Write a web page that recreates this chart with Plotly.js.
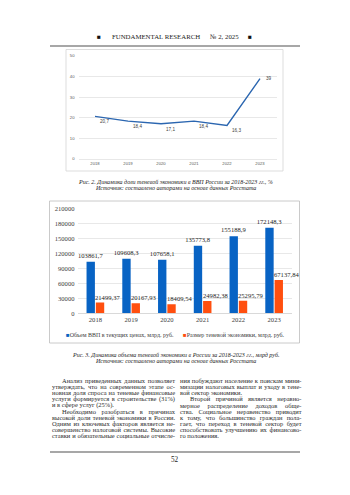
<!DOCTYPE html>
<html>
<head>
<meta charset="utf-8">
<script src="https://cdn.plot.ly/plotly-3.0.1.min.js"></script>
<style>html,body{margin:0;padding:0;background:#fff;}#page{width:350px;height:495px;}</style>
</head>
<body>
<div id="page"></div>
<script>
// ---------- DATA ----------
const years = ['2018', '2019', '2020', '2021', '2022', '2023'];
const shadowShare = [20.7, 18.4, 17.1, 18.4, 16.3, 39];
const gdpCurrent = [103861.7, 109608.3, 107658.1, 135773.8, 155188.9, 172148.3];
const shadowSize = [21499.37, 20167.93, 18409.54, 24982.38, 25295.79, 67137.84];
const seriesNames = ['Объем ВВП в текущих ценах, млрд. руб.', 'Размер теневой экономики, млрд. руб.'];

const headerTitle = 'FUNDAMENTAL RESEARCH';
const headerIssue = '№ 2, 2025';
const caption1 = ['Рис. 2. Динамика доли теневой экономики в ВВП России за 2018-2023 гг., %',
                  'Источник: составлено авторами на основе данных Росстата'];
const caption2 = ['Рис. 3. Динамика объема теневой экономики в России за 2018-2023 гг., млрд руб.',
                  'Источник: составлено авторами на основе данных Росстата'];
const leftLines = [
  'Анализ приведенных данных позволяет',
  'утверждать, что на современном этапе ос-',
  'новная доля спроса на теневые финансовые',
  'услуги формируется в строительстве (31%)',
  'и в сфере услуг (25%).',
  'Необходимо разобраться в причинах',
  'высокой доли теневой экономики в России.',
  'Одним из ключевых факторов является не-',
  'совершенство налоговой системы. Высокие',
  'ставки и обязательные социальные отчисле-'
];
const rightLines = [
  'ния побуждают население к поискам мини-',
  'мизации налоговых выплат и уходу в тене-',
  'вой сектор экономики.',
  'Второй причиной является неравно-',
  'мерное распределение доходов обще-',
  'ства. Социальное неравенство приводит',
  'к тому, что большинство граждан пола-',
  'гает, что переход в теневой сектор будет',
  'способствовать улучшению их финансово-',
  'го положения.'
];
const leftIndent = [1,0,0,0,0,1,0,0,0,0];
const leftJustify = [1,1,1,1,0,1,1,1,1,1];
const rightIndent = [0,0,0,1,0,0,0,0,0,0];
const rightJustify = [1,1,0,1,1,1,1,1,1,0];
const pageNumber = '52';

// ---------- helpers (page pixel -> paper) ----------
const W = 350, H = 495;
const px = x => x / W;
const py = y => 1 - y / H;
const fmtComma = v => String(v).replace('.', ',');

const SERIF = '"Liberation Serif", "Times New Roman", serif';
const SANS = '"Liberation Sans", Arial, sans-serif';
const BLUE = '#0863c4';
const ORANGE = '#ff4f0f';
const LINEBLUE = '#2b66b0';

// ---------- traces ----------
const traces = [
  {
    type: 'scatter', mode: 'lines', x: years, y: shadowShare,
    xaxis: 'x', yaxis: 'y', line: {color: LINEBLUE, width: 1.4}, hoverinfo: 'skip'
  },
  {
    type: 'bar', name: seriesNames[0], x: years, y: gdpCurrent, xaxis: 'x2', yaxis: 'y2',
    marker: {color: BLUE}, text: gdpCurrent.map(fmtComma), textposition: 'outside',
    textfont: {family: SERIF, size: 6.6, color: '#262626'}, constraintext: 'none', cliponaxis: false
  },
  {
    type: 'bar', name: seriesNames[1], x: years, y: shadowSize, xaxis: 'x2', yaxis: 'y2',
    marker: {color: ORANGE}, cliponaxis: false
  }
];

// ---------- annotations ----------
const ann = [];
function paperText(x, y, text, font, xa, ya) {
  ann.push({xref:'paper', yref:'paper', x: px(x), y: py(y), text: text, showarrow:false,
    xanchor: xa || 'center', yanchor: ya || 'middle', font: font});
}
// line chart data labels (category axis -> serial number)
years.forEach((yr, i) => {
  const last = i === years.length - 1;
  ann.push({
    xref: 'x', yref: 'y', x: i, y: shadowShare[i], text: fmtComma(shadowShare[i]),
    showarrow: false, xanchor: 'left', yanchor: 'middle',
    xshift: last ? 4 : 3, yshift: last ? 0 : -5.5,
    font: {family: SANS, size: 4.6, color: '#404040'}
  });
});
// orange bar data labels (offset to the right like the original)
years.forEach((yr, i) => {
  ann.push({
    xref: 'x2', yref: 'y2', x: i, y: shadowSize[i], text: fmtComma(shadowSize[i]),
    showarrow: false, xanchor: 'center', yanchor: 'bottom', xshift: 12.5, yshift: 0,
    font: {family: SERIF, size: 6.6, color: '#262626'}
  });
});
// header
const hdrFont = {family: SERIF, size: 6.8, color: '#222'};
paperText(99, 36, '■', {family:SERIF, size:6.5, color:'#111'});
paperText(156, 36, headerTitle, hdrFont);
paperText(224, 36, headerIssue, hdrFont);
paperText(249.5, 36, '■', {family:SERIF, size:6.5, color:'#111'});
// captions
const capFont = {family: SERIF, size: 6, color: '#222'};
[[caption1, 181.5], [caption2, 354.5]].forEach(([lines, y0]) => {
  lines.forEach((t, i) => paperText(175, y0 + i*6.3, '<i>' + t + '</i>', capFont));
});
// bar legend
const legFont = {family: SERIF, size: 6, color: '#404040'};
paperText(64, 335, '<span style="color:' + BLUE + '">■</span>' + seriesNames[0], legFont, 'left');
paperText(181, 335, '<span style="color:' + ORANGE + '">■</span>' + seriesNames[1], legFont, 'left');

// body text (justified via measured word spacing)
const canvas = document.createElement('canvas');
const ctx = canvas.getContext('2d');
let bodySize = 6.7;
function measure(t, s) { ctx.font = s + 'px "Liberation Serif"'; return ctx.measureText(t).width; }
const cols = [
  {lines: leftLines, indent: leftIndent, just: leftJustify, x0: 51, x1: 174},
  {lines: rightLines, indent: rightIndent, just: rightJustify, x0: 178.5, x1: 300}
];
const IND = 10;
let maxRatio = 0;
cols.forEach(c => c.lines.forEach((t, i) => {
  const target = (c.x1 - c.x0) - (c.indent[i] ? IND : 0);
  maxRatio = Math.max(maxRatio, measure(t, bodySize) / target);
}));
if (maxRatio > 0.99) bodySize = bodySize * 0.99 / maxRatio;
const bodyFont = {family: SERIF, size: bodySize, color: '#2a2a2a'};
cols.forEach(c => c.lines.forEach((t, i) => {
  const start = c.x0 + (c.indent[i] ? IND : 0);
  const target = c.x1 - start;
  let text = t;
  if (c.just[i]) {
    const nSp = (t.match(/ /g) || []).length;
    if (nSp > 0) {
      const extra = (target - measure(t, bodySize)) / nSp;
      text = '<span style="word-spacing:' + extra.toFixed(2) + 'px">' + t + '</span>';
    }
  }
  paperText(start - 1, 380.8 + i*6.05, text, bodyFont, 'left');
}));
paperText(174.5, 460, pageNumber, {family: SERIF, size: 7.2, color: '#222'});

// ---------- shapes (page rules and chart frames) ----------
const shapes = [
  {type:'line', xref:'paper', yref:'paper', x0: px(50), x1: px(300), y0: py(46), y1: py(46), line:{color:'#8a8a8a', width:1.4}},
  {type:'rect', xref:'paper', yref:'paper', x0: px(66), x1: px(283), y0: py(49.5), y1: py(171), line:{color:'#d4d4d4', width:0.8}},
  {type:'rect', xref:'paper', yref:'paper', x0: px(49.5), x1: px(299.5), y0: py(201), y1: py(343), line:{color:'#bdbdbd', width:0.8}},
  {type:'line', xref:'paper', yref:'paper', x0: px(50), x1: px(300), y0: py(452), y1: py(452), line:{color:'#8a8a8a', width:1.4}}
];

const layout = {
  width: W, height: H, margin: {l:0, r:0, t:0, b:0},
  paper_bgcolor: '#fff', plot_bgcolor: 'rgba(0,0,0,0)',
  showlegend: false, separators: ', ',
  font: {family: SERIF, color: '#404040'},
  barmode: 'group', bargap: 0.48, bargroupgap: 0.1,
  xaxis: {domain: [px(78.5), px(276.5)], anchor: 'y', type: 'category', range: [-0.5, 5.5], autorange: false,
    showgrid: false, showline: true, linecolor: '#d9d9d9', linewidth: 0.6, ticks: '',
    tickfont: {family: SANS, size: 4.2, color: '#595959'}},
  yaxis: {domain: [py(159), py(56)], anchor: 'x', range: [0, 50], autorange: false, dtick: 10, showgrid: true,
    gridcolor: '#d9d9d9', gridwidth: 0.6, zeroline: false, ticks: '', ticklabelstandoff: 3,
    tickfont: {family: SANS, size: 4.2, color: '#595959'}},
  xaxis2: {domain: [px(77.5), px(292)], anchor: 'y2', type: 'category', range: [-0.5, 5.5], autorange: false,
    showgrid: false, showline: true, linecolor: '#d0d0d0', linewidth: 0.8, ticks: '',
    tickfont: {family: SERIF, size: 6.6, color: '#404040'}},
  yaxis2: {domain: [py(313.3), py(209)], anchor: 'x2', range: [0, 210000], autorange: false, dtick: 30000,
    tickformat: 'd', showgrid: true, gridcolor: '#d9d9d9', gridwidth: 0.6, zeroline: false, ticks: '',
    ticklabelstandoff: 2, tickfont: {family: SERIF, size: 6.6, color: '#404040'}},
  annotations: ann,
  shapes: shapes
};

Plotly.newPlot('page', traces, layout, {staticPlot: true, displayModeBar: false});
</script>
</body>
</html>
